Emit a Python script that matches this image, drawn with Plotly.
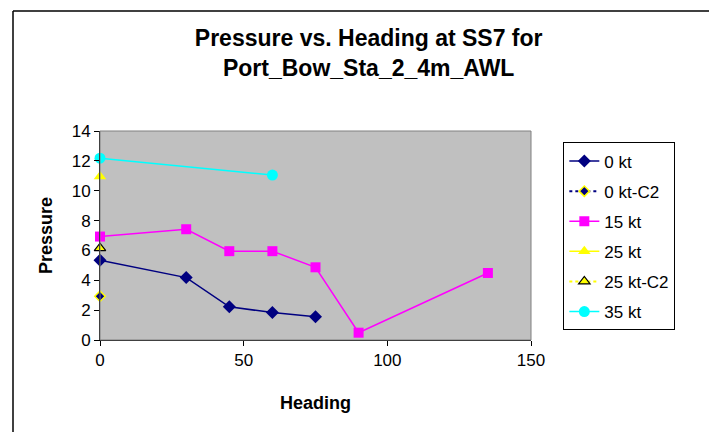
import plotly.graph_objects as go

heading_0kt = [0, 30, 45, 60, 75]
pressure_0kt = [5.35, 4.18, 2.22, 1.84, 1.55]
heading_0kt_c2 = [0]
pressure_0kt_c2 = [2.93]
heading_15kt = [0, 30, 45, 60, 75, 90, 135]
pressure_15kt = [6.93, 7.42, 5.95, 5.95, 4.87, 0.49, 4.49]
heading_25kt = [0]
pressure_25kt = [10.95]
heading_25kt_c2 = [0]
pressure_25kt_c2 = [6.15]
heading_35kt = [0, 60]
pressure_35kt = [12.18, 11.05]

x_ticks = [0, 50, 100, 150]
y_ticks = [0, 2, 4, 6, 8, 10, 12, 14]

FONT = "Liberation Sans, Arial, sans-serif"

fig = go.Figure()
fig.add_trace(go.Scatter(x=heading_0kt, y=pressure_0kt, name="0 kt", mode="lines+markers",
                         line=dict(color="#000080", width=1.5),
                         marker=dict(symbol="diamond", size=10, color="#000080"),
                         legendgroup="a"))
fig.add_trace(go.Scatter(x=heading_0kt_c2, y=pressure_0kt_c2, name="0 kt-C2", mode="lines+markers",
                         line=dict(color="#000080", width=2, dash="dot"),
                         marker=dict(symbol="diamond", size=8, color="#000080",
                                     line=dict(color="#FFFF00", width=1.5)),
                         legendgroup="b"))
fig.add_trace(go.Scatter(x=heading_15kt, y=pressure_15kt, name="15 kt", mode="lines+markers",
                         line=dict(color="#FF00FF", width=1.5),
                         marker=dict(symbol="square", size=10, color="#FF00FF"),
                         legendgroup="c"))
fig.add_trace(go.Scatter(x=heading_25kt, y=pressure_25kt, name="25 kt", mode="lines+markers",
                         line=dict(color="#FFFF00", width=1.5),
                         marker=dict(symbol="triangle-up", size=11, color="#FFFF00"),
                         legendgroup="d"))
fig.add_trace(go.Scatter(x=heading_25kt_c2, y=pressure_25kt_c2, name="25 kt-C2", mode="lines+markers",
                         line=dict(color="#FFFF00", width=2, dash="dot"),
                         marker=dict(symbol="triangle-up", size=10, color="#FFFF00",
                                     line=dict(color="#000000", width=1.2)),
                         legendgroup="e"))
fig.add_trace(go.Scatter(x=heading_35kt, y=pressure_35kt, name="35 kt", mode="lines+markers",
                         line=dict(color="#00FFFF", width=1.5),
                         marker=dict(symbol="circle", size=11, color="#00FFFF"),
                         legendgroup="f"))

TOP = 11
fig.update_layout(
    width=709, height=432,
    margin=dict(l=100, r=178, t=131, b=92),
    paper_bgcolor="white",
    plot_bgcolor="#C0C0C0",
    font=dict(family=FONT, size=17, color="black"),
    title=dict(text="<b>Pressure vs. Heading at SS7 for<br>Port_Bow_Sta_2_4m_AWL</b>",
               x=0.52, xanchor="center", yref="container", y=1 - 46 / 432, yanchor="top",
               font=dict(family=FONT, size=23, color="black")),
    showlegend=True,
    legend=dict(x=1.075, xanchor="left", y=0.945, yanchor="top",
                bordercolor="black", borderwidth=1, bgcolor="white",
                font=dict(family=FONT, size=17, color="black"), tracegroupgap=5,
                traceorder="grouped"),
    xaxis=dict(range=[0, 150], tickvals=x_ticks, showgrid=False, zeroline=False,
               showline=True, linecolor="black", linewidth=1, ticks="outside",
               ticklen=5, tickcolor="black", tickfont=dict(family=FONT, size=17),
               title=dict(text="<b>Heading</b>", font=dict(family=FONT, size=18), standoff=26)),
    yaxis=dict(range=[0, 14], tickvals=y_ticks, showgrid=False, zeroline=False,
               showline=True, linecolor="black", linewidth=1, ticks="outside",
               ticklen=5, tickcolor="black", tickfont=dict(family=FONT, size=17),
               title=dict(text="<b>Pressure</b>", font=dict(family=FONT, size=18), standoff=14)),
    shapes=[
        dict(type="rect", xref="paper", yref="paper", x0=0, x1=1, y0=0, y1=1,
             line=dict(color="#808080", width=1), fillcolor="rgba(0,0,0,0)", layer="above"),
        dict(type="line", xref="paper", yref="paper",
             x0=(13 - 100) / 431, x1=(720 - 100) / 431,
             y0=(340 - TOP) / 209, y1=(340 - TOP) / 209,
             line=dict(color="black", width=1.5)),
        dict(type="line", xref="paper", yref="paper",
             x0=(13 - 100) / 431, x1=(13 - 100) / 431,
             y0=(340 - TOP) / 209, y1=(340 - 440) / 209,
             line=dict(color="black", width=1.5)),
    ],
)
for tr in fig.data:
    tr.cliponaxis = False

fig.write_html("out.html")
